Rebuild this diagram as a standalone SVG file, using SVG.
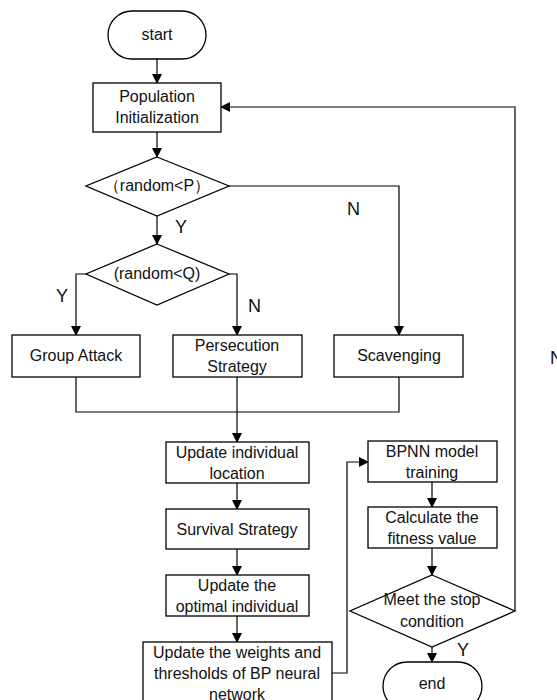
<svg xmlns="http://www.w3.org/2000/svg" width="557" height="700" viewBox="0 0 557 700">
<defs>
<marker id="ah" markerWidth="10" markerHeight="10" refX="9" refY="5" orient="auto" markerUnits="userSpaceOnUse">
<path d="M0,0 L10,5 L0,10 Z" fill="#000"/>
</marker>
<style>
.b{fill:#fff;stroke:#000;stroke-width:1.3}
.t{font-family:"Liberation Sans",Arial,sans-serif;font-size:16px;fill:#111;text-anchor:middle}
.l{font-family:"Liberation Sans",Arial,sans-serif;font-size:18px;fill:#111}
.c{fill:none;stroke:#000;stroke-width:1.2}
.a{marker-end:url(#ah)}
</style>
</defs>
<rect width="557" height="700" fill="#fff"/>
<g id="connectors">
<path class="c a" d="M157,59 V83"/>
<path class="c a" d="M157,132 V157"/>
<path class="c a" d="M229,186 H399 V335"/>
<path class="c a" d="M157,216 V244"/>
<path class="c a" d="M86,274 H76 V335"/>
<path class="c a" d="M229,274 H237 V335"/>
<path class="c" d="M76,377 V412 H399 V377"/>
<path class="c a" d="M237,377 V442"/>
<path class="c a" d="M237,483 V509"/>
<path class="c a" d="M237,549 V575"/>
<path class="c a" d="M237,616 V642"/>
<path class="c a" d="M332,673 H347 V462 H368"/>
<path class="c a" d="M432,482 V507"/>
<path class="c a" d="M432,548 V575"/>
<path class="c a" d="M432,647 V662"/>
<path class="c a" d="M515,611 V107 H221"/>
<text class="l" x="347" y="215">N</text>
<text class="l" x="175" y="233">Y</text>
<text class="l" x="56" y="302">Y</text>
<text class="l" x="248" y="312">N</text>
<text class="l" x="550" y="364">N</text>
<text class="l" x="457" y="656">Y</text>
</g>
<g id="start"><rect class="b" x="108" y="11" width="98" height="48" rx="24"/><text class="t" x="157" y="40">start</text></g>
<g id="init"><rect class="b" x="93" y="83" width="128" height="49"/><text class="t" x="157" y="102">Population</text><text class="t" x="157" y="123">Initialization</text></g>
<g id="d1"><polygon class="b" points="157,157 229,186 157,216 86,186"/><text class="t" x="157" y="191">（random&lt;P）</text></g>
<g id="d2"><polygon class="b" points="157,244 229,274 157,305 86,274"/><text class="t" x="157" y="279">(random&lt;Q)</text></g>
<g id="group"><rect class="b" x="12" y="335" width="128" height="42"/><text class="t" x="76" y="361">Group Attack</text></g>
<g id="persecution"><rect class="b" x="173" y="335" width="129" height="42"/><text class="t" x="237" y="351">Persecution</text><text class="t" x="237" y="372">Strategy</text></g>
<g id="scavenging"><rect class="b" x="334" y="335" width="129" height="42"/><text class="t" x="399" y="361">Scavenging</text></g>
<g id="update-loc"><rect class="b" x="166" y="442" width="143" height="41"/><text class="t" x="237" y="458">Update individual</text><text class="t" x="237" y="479">location</text></g>
<g id="survival"><rect class="b" x="166" y="509" width="143" height="40"/><text class="t" x="237" y="535">Survival Strategy</text></g>
<g id="update-opt"><rect class="b" x="166" y="575" width="143" height="41"/><text class="t" x="237" y="591">Update the</text><text class="t" x="237" y="612">optimal individual</text></g>
<g id="update-w"><rect class="b" x="143" y="642" width="189" height="70"/><text class="t" x="237" y="658">Update the weights and</text><text class="t" x="237" y="679">thresholds of BP neural</text><text class="t" x="237" y="700">network</text></g>
<g id="bpnn"><rect class="b" x="368" y="441" width="129" height="41"/><text class="t" x="432" y="457">BPNN model</text><text class="t" x="432" y="478">training</text></g>
<g id="fitness"><rect class="b" x="368" y="507" width="129" height="41"/><text class="t" x="432" y="523">Calculate the</text><text class="t" x="432" y="544">fitness value</text></g>
<g id="d3"><polygon class="b" points="432,575 515,611 432,647 350,611"/><text class="t" x="432" y="605">Meet the stop</text><text class="t" x="432" y="627">condition</text></g>
<g id="end"><rect class="b" x="383" y="662" width="99" height="48" rx="24"/><text class="t" x="432" y="689">end</text></g>
</svg>
